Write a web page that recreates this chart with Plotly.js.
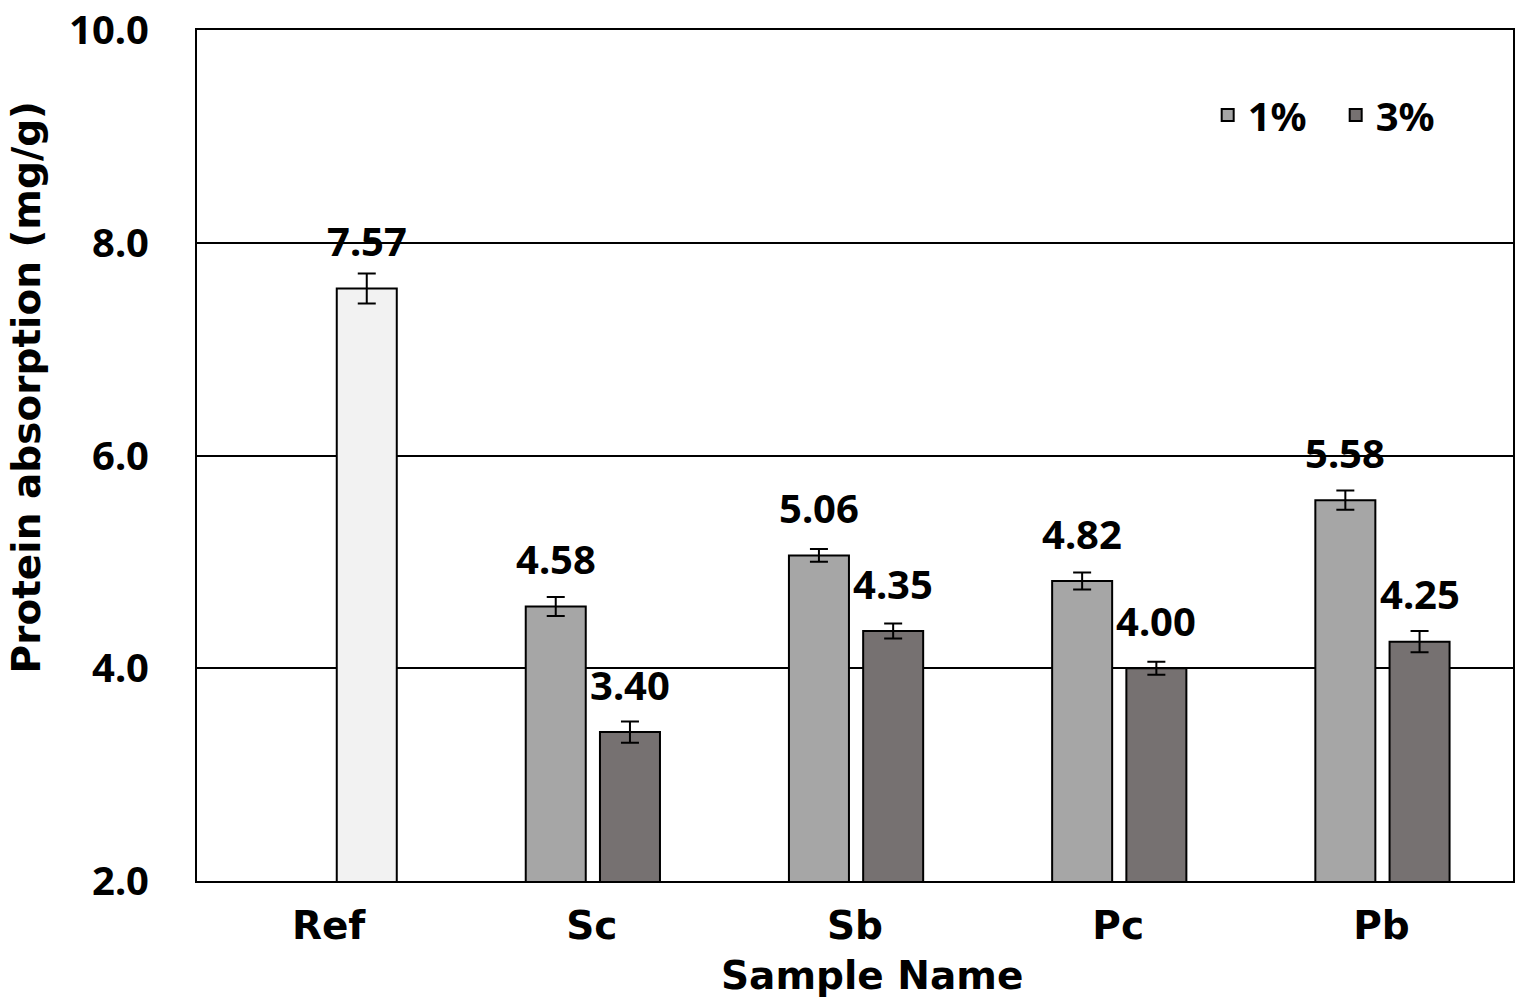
<!DOCTYPE html>
<html>
<head>
<meta charset="utf-8">
<script src="https://cdn.plot.ly/plotly-3.0.1.min.js"></script>
<style>html,body{margin:0;padding:0;background:#fff;}#chart{width:1516px;height:1004px;}</style>
</head>
<body>
<div id="chart"></div>
<script>
const categories = ['Ref', 'Sc', 'Sb', 'Pc', 'Pb'];
const refCategory = ['Ref'];
const refValues = [7.57];
const refErrors = [0.14];
const sampleCategories = ['Sc', 'Sb', 'Pc', 'Pb'];
const values1 = [4.58, 5.06, 4.82, 5.58];
const errors1 = [0.09, 0.06, 0.08, 0.09];
const values3 = [3.40, 4.35, 4.00, 4.25];
const errors3 = [0.10, 0.07, 0.06, 0.10];
const yTickVals = [2, 4, 6, 8, 10];
const yTickText = ['2.0', '4.0', '6.0', '8.0', '10.0'];

const NUMFONT = '"Noto Sans", "DejaVu Sans", sans-serif';
const WORDFONT = '"DejaVu Sans", "Noto Sans", sans-serif';
const barWidth = 0.228;
const off1 = -0.251;
const off3 = 0.031;
const outline = {color: '#000', width: 2};
const errStyle = {thickness: 2, width: 9, color: '#000'};

const traces = [
  {
    type: 'bar', name: 'Ref', x: refCategory, y: refValues, showlegend: false,
    width: barWidth, offset: off3,
    marker: {color: '#f2f2f2', line: outline},
    error_y: Object.assign({type: 'data', array: refErrors, visible: true}, errStyle)
  },
  {
    type: 'bar', name: '1%', x: sampleCategories, y: values1,
    width: barWidth, offset: off1,
    marker: {color: '#a6a6a6', line: outline},
    error_y: Object.assign({type: 'data', array: errors1, visible: true}, errStyle)
  },
  {
    type: 'bar', name: '3%', x: sampleCategories, y: values3,
    width: barWidth, offset: off3,
    marker: {color: '#767171', line: outline},
    error_y: Object.assign({type: 'data', array: errors3, visible: true}, errStyle)
  }
];

const pxPerCat = (1516 - 197 - 3) / categories.length;
const shift1 = (off1 + barWidth / 2) * pxPerCat;
const shift3 = (off3 + barWidth / 2) * pxPerCat;
const labelFont = {family: NUMFONT, size: 40, color: '#000', weight: 700};
const annotations = [];
refCategory.forEach((c, i) => annotations.push({x: c, y: refValues[i], xref: 'x', yref: 'y', text: refValues[i].toFixed(2), showarrow: false, xshift: shift3, yshift: 48, yanchor: 'middle', font: labelFont}));
sampleCategories.forEach((c, i) => {
  annotations.push({x: c, y: values1[i], xref: 'x', yref: 'y', text: values1[i].toFixed(2), showarrow: false, xshift: shift1, yshift: 48, yanchor: 'middle', font: labelFont});
  annotations.push({x: c, y: values3[i], xref: 'x', yref: 'y', text: values3[i].toFixed(2), showarrow: false, xshift: shift3, yshift: 48, yanchor: 'middle', font: labelFont});
});
annotations.push({
  text: 'Protein absorption (mg/g)', textangle: -90, xref: 'paper', yref: 'paper',
  x: 0, y: 0.58, xshift: -171, showarrow: false, xanchor: 'center', yanchor: 'middle',
  font: {family: WORDFONT, size: 39, color: '#000', weight: 700}
});
annotations.push({
  text: 'Sample Name', xref: 'paper', yref: 'paper',
  x: 0.513, y: 0, yshift: -94, showarrow: false, xanchor: 'center', yanchor: 'middle',
  font: {family: WORDFONT, size: 39, color: '#000', weight: 700}
});

const layout = {
  width: 1516, height: 1004,
  margin: {l: 197, r: 3, t: 30, b: 123, pad: 0},
  paper_bgcolor: '#fff', plot_bgcolor: '#fff',
  font: {family: NUMFONT, size: 40, color: '#000', weight: 700},
  barmode: 'overlay',
  showlegend: true,
  legend: {
    orientation: 'h', x: 0.768, y: 0.9, xanchor: 'left', yanchor: 'middle',
    font: {family: NUMFONT, size: 40, color: '#000', weight: 700},
    bgcolor: 'rgba(0,0,0,0)', traceorder: 'normal',
    entrywidth: 83, entrywidthmode: 'pixels'
  },
  xaxis: {
    type: 'category', categoryorder: 'array', categoryarray: categories,
    range: [-0.5, categories.length - 0.5],
    showgrid: false, zeroline: false,
    showline: true, linecolor: '#000', linewidth: 2, mirror: true,
    ticks: '', ticklabelstandoff: 9,
    tickfont: {family: WORDFONT, size: 39, color: '#000', weight: 700}
  },
  yaxis: {
    range: [1.9999, 10.0001], tickvals: yTickVals, ticktext: yTickText,
    showgrid: true, gridcolor: '#000', gridwidth: 2, zeroline: false,
    showline: true, linecolor: '#000', linewidth: 2, mirror: true,
    ticks: '', ticklabelstandoff: 38, ticklabeloverflow: 'allow',
    tickfont: {family: NUMFONT, size: 40, color: '#000', weight: 700}
  },
  annotations: annotations
};

Plotly.newPlot('chart', traces, layout, {displayModeBar: false, staticPlot: true});
</script>
</body>
</html>
